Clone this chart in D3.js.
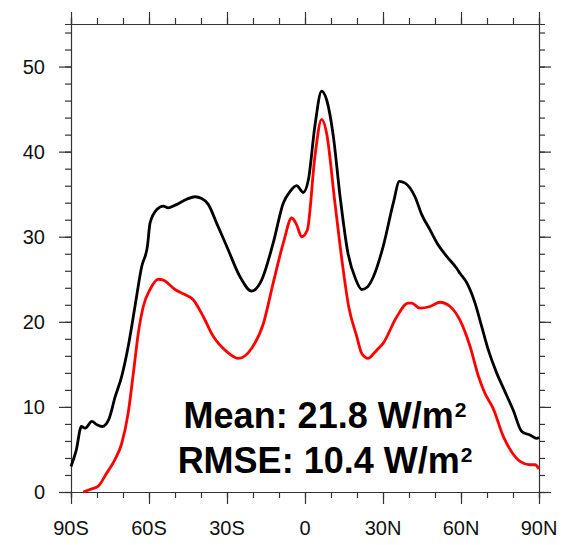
<!DOCTYPE html>
<html>
<head>
<meta charset="utf-8">
<script src="https://cdn.jsdelivr.net/npm/d3@7"></script>
<style>
  body { margin: 0; background: #fff; }
  svg { display: block; font-family: "Liberation Sans", Arial, Helvetica, sans-serif; }
</style>
</head>
<body>
<div class="chart"></div>
<script>
// zonal mean, black curve
const latBlack = [-90, -88, -86, -84.5, -82, -80, -78, -75.5, -73, -70.5, -68, -65.4, -62.8, -60.6, -59.6, -57, -54.5, -52.6, -49.3, -45.5, -42.3, -39.7, -37.2, -34, -30, -25, -20.5, -16.7, -12.2, -8.3, -5.8, -3.2, -0.7, 1.3, 3.8, 6.4, 8.3, 10.9, 13.5, 16.5, 19.5, 21.8, 24, 26.3, 30.1, 34, 36.3, 38.5, 42.3, 44.9, 48.1, 50.7, 54.5, 58.3, 59.6, 62.2, 65.4, 68, 70.5, 73.7, 76.3, 80.1, 83.4, 86.5, 89.1, 90];
const black = [3.0, 4.9, 7.7, 7.5, 8.3, 7.9, 7.7, 8.5, 11.2, 13.6, 17.1, 21.8, 26.5, 28.9, 31.6, 33.2, 33.6, 33.4, 33.8, 34.4, 34.7, 34.5, 33.8, 31.6, 28.8, 25.3, 23.6, 24.9, 29.3, 34.0, 35.3, 36.0, 35.2, 36.7, 43.0, 47.1, 46.1, 41.8, 34.7, 28.1, 25.0, 23.8, 24.1, 25.3, 28.9, 34.0, 36.5, 36.3, 34.7, 32.6, 30.8, 29.3, 27.7, 26.3, 25.7, 24.6, 22.2, 19.4, 16.7, 14.0, 12.2, 9.6, 7.1, 6.7, 6.3, 6.4];

// zonal mean, red curve
const latRed = [-85.3, -82.7, -79.5, -76.3, -73.1, -70.5, -68, -66, -64.1, -62.2, -59.6, -56.4, -54.5, -50, -46.2, -43, -39.1, -35.3, -30.1, -25.6, -20.5, -16, -12.2, -8.3, -5.1, -3.2, -1.3, 0.9, 3.8, 6.4, 8.3, 11.5, 14.7, 16.8, 19.9, 21.8, 24.3, 26.5, 28, 30.1, 35.3, 39.7, 41, 44.2, 48.1, 51.9, 55.8, 59.6, 63.5, 66.7, 69.2, 72.4, 76.3, 79.5, 82.7, 86.5, 88.5, 90];
const red = [0.0, 0.3, 0.7, 2.2, 3.8, 5.7, 9.3, 14.0, 18.7, 21.8, 23.8, 25.0, 24.9, 23.8, 23.2, 22.6, 20.6, 18.3, 16.5, 15.7, 16.9, 19.8, 24.6, 29.3, 32.2, 31.4, 30.0, 30.8, 39.4, 43.8, 42.2, 34.0, 26.1, 21.8, 18.3, 16.3, 15.7, 16.3, 16.8, 17.5, 20.6, 22.2, 22.2, 21.6, 21.8, 22.3, 21.8, 20.2, 17.1, 13.6, 11.6, 9.8, 6.5, 4.7, 3.6, 3.2, 3.2, 2.7];

const xTicks = [-90, -60, -30, 0, 30, 60, 90];
const xTickLabels = ["90S", "60S", "30S", "0", "30N", "60N", "90N"];
const yTicks = [0, 10, 20, 30, 40, 50];
const statLines = ["Mean: 21.8 W/m", "RMSE: 10.4 W/m"];

const margin = { top: 24, right: 28, bottom: 53, left: 71 },
  width = 567 - margin.left - margin.right,
  height = 545 - margin.top - margin.bottom;

const svg = d3.select(".chart")
  .append("svg")
  .attr("width", 567)
  .attr("height", 545);

const g = svg.append("g")
  .attr("transform", `translate(${margin.left},${margin.top})`);

const x = d3.scaleLinear().domain([-90, 90]).range([0, width]);
const y = d3.scaleLinear().domain([0, 55]).range([height, 0]);

const axisColor = "#333";
const minorX = d3.range(-90, 91, 10);
const minorY = d3.range(0, 55, 2);

// outward ticks on all four sides, major + minor
function drawAxis(sel, axisFn, scale, major, minor) {
  sel.call(axisFn(scale).tickValues(minor).tickSize(6).tickFormat(""));
  const maj = sel.append("g");
  maj.call(axisFn(scale).tickValues(major).tickSize(12).tickFormat(""));
  maj.select(".domain").remove();
  sel.selectAll("line, path").attr("stroke", axisColor).attr("stroke-width", 1.2);
  return sel;
}

drawAxis(g.append("g").attr("transform", `translate(0,${height})`), d3.axisBottom, x, xTicks, minorX);
drawAxis(g.append("g"), d3.axisTop, x, xTicks, minorX);
drawAxis(g.append("g"), d3.axisLeft, y, yTicks, minorY);
drawAxis(g.append("g").attr("transform", `translate(${width},0)`), d3.axisRight, y, yTicks, minorY);

// tick labels
g.append("g").selectAll("text")
  .data(xTicks)
  .join("text")
  .attr("x", d => x(d))
  .attr("y", height + 43)
  .attr("text-anchor", "middle")
  .attr("font-size", 20)
  .attr("fill", "#111")
  .text((d, i) => xTickLabels[i]);

g.append("g").selectAll("text")
  .data(yTicks)
  .join("text")
  .attr("x", -26)
  .attr("y", d => y(d))
  .attr("dy", "0.36em")
  .attr("text-anchor", "end")
  .attr("font-size", 20)
  .attr("fill", "#111")
  .text(d => d);

const line = (lats) => d3.line()
  .curve(d3.curveMonotoneX)
  .x((d, i) => x(lats[i]))
  .y(d => y(d));

g.append("path")
  .datum(black)
  .attr("fill", "none")
  .attr("stroke", "#000")
  .attr("stroke-width", 2.8)
  .attr("stroke-linejoin", "round")
  .attr("d", line(latBlack));

g.append("path")
  .datum(red)
  .attr("fill", "none")
  .attr("stroke", "#ff0000")
  .attr("stroke-width", 2.8)
  .attr("stroke-linejoin", "round")
  .attr("d", line(latRed));

// stats text
const stats = g.append("g");
statLines.forEach((s, i) => {
  const t = stats.append("text")
    .attr("x", x(0) + 20)
    .attr("y", 404 + i * 45)
    .attr("text-anchor", "middle")
    .attr("font-size", 36)
    .attr("font-weight", "bold")
    .attr("fill", "#000");
  t.append("tspan").text(s);
  t.append("tspan").attr("font-size", 21).attr("dx", 1).attr("dy", -11).text("2");
});
</script>
</body>
</html>
